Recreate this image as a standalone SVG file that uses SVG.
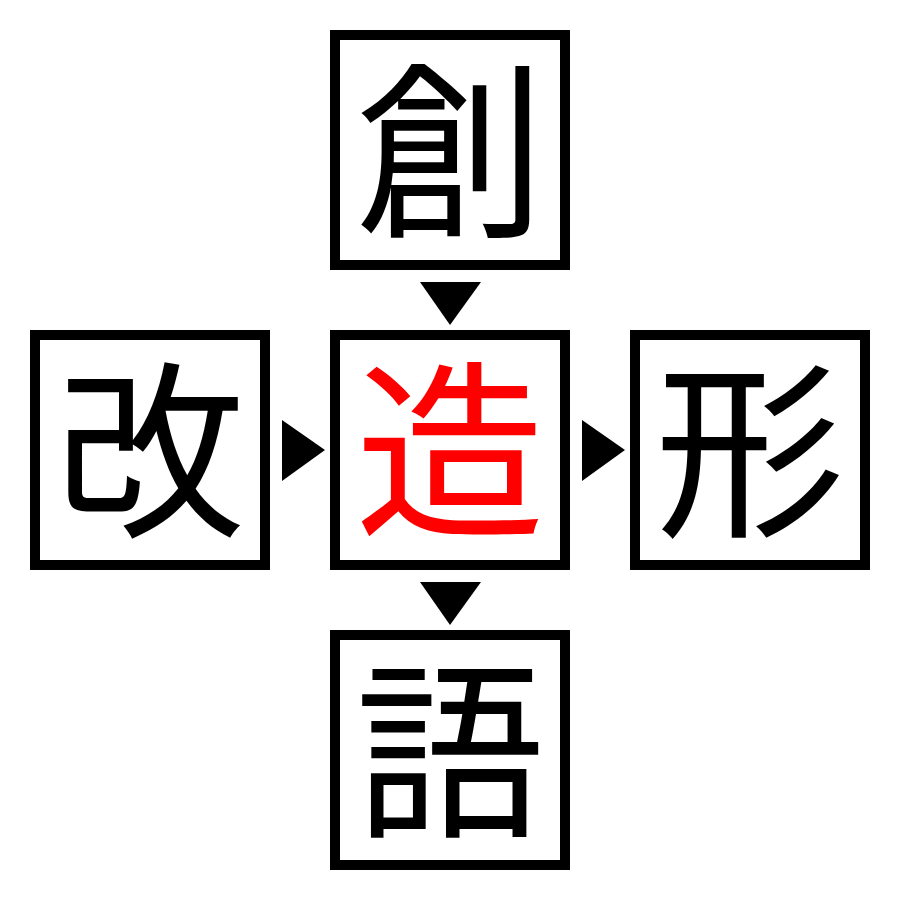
<svg xmlns="http://www.w3.org/2000/svg" width="900" height="900" viewBox="0 0 900 900">
<style>
.box{fill:#fff;stroke:#000;stroke-width:10}
.ch{font-family:"Noto Sans CJK JP","Noto Sans CJK SC",sans-serif;font-size:190px;text-anchor:middle;fill:#000}
.red{fill:#ff0000}
.arr{fill:#000}
</style>
<rect width="900" height="900" fill="#fff"/>
<g id="node-top"><rect class="box" x="335" y="35" width="230" height="230"/><text class="ch" x="450" y="222">創</text></g>
<g id="node-left"><rect class="box" x="35" y="335" width="230" height="230"/><text class="ch" x="150" y="522">改</text></g>
<g id="node-center"><rect class="box" x="335" y="335" width="230" height="230"/><text class="ch red" x="450" y="522">造</text></g>
<g id="node-right"><rect class="box" x="635" y="335" width="230" height="230"/><text class="ch" x="750" y="522">形</text></g>
<g id="node-bottom"><rect class="box" x="335" y="635" width="230" height="230"/><text class="ch" x="450" y="822">語</text></g>
<g id="connectors">
<polygon class="arr" points="420,282 481,282 450,325"/>
<polygon class="arr" points="282,420 282,481 325,450"/>
<polygon class="arr" points="582,420 582,481 625,450"/>
<polygon class="arr" points="420,582 481,582 450,625"/>
</g>
</svg>
